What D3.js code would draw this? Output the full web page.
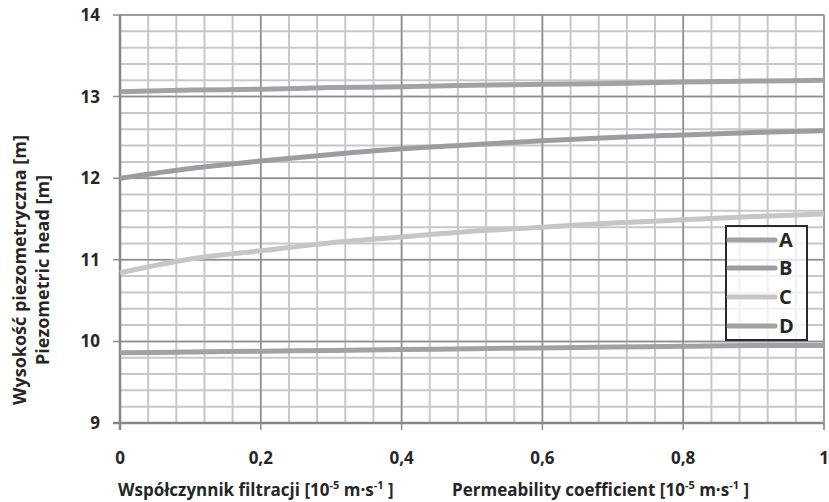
<!DOCTYPE html>
<html><head><meta charset="utf-8">
<script src="https://cdn.jsdelivr.net/npm/d3@7"></script>
<style>body{margin:0;background:#fff}svg{display:block}text{font-family:"Open Sans","DejaVu Sans",sans-serif;font-weight:700;fill:#262626}</style>
</head><body>
<script>
const xValues = [0, 0.1, 0.2, 0.3, 0.4, 0.5, 0.6, 0.7, 0.8, 0.9, 1.0];
const seriesA = [13.06, 13.08, 13.09, 13.11, 13.12, 13.14, 13.15, 13.16, 13.18, 13.19, 13.20];
const seriesB = [12.00, 12.12, 12.21, 12.29, 12.36, 12.41, 12.46, 12.50, 12.53, 12.56, 12.58];
const seriesC = [10.84, 11.01, 11.11, 11.21, 11.28, 11.35, 11.40, 11.45, 11.49, 11.53, 11.56];
const seriesD = [9.86, 9.87, 9.88, 9.89, 9.90, 9.91, 9.92, 9.93, 9.94, 9.95, 9.95];
const seriesNames = ["A", "B", "C", "D"];
const xTickLabels = ["0", "0,2", "0,4", "0,6", "0,8", "1"];
const yTickLabels = ["9", "10", "11", "12", "13", "14"];

const W = 829, H = 502;
const m = {l:120, r:5, t:15, b:79};
const svg = d3.select("body").append("svg").attr("width", W).attr("height", H);
const x = d3.scaleLinear().domain([0,1]).range([m.l, W-m.r]);
const y = d3.scaleLinear().domain([9,14]).range([H-m.b, m.t]);

const g = svg.append("g");
const xMinor = d3.range(0, 1.0001, 0.04);
const yMinor = d3.range(9, 14.0001, 0.2);
g.selectAll(".vmin").data(xMinor).join("line")
  .attr("x1", d=>x(d)).attr("x2", d=>x(d)).attr("y1", y(9)).attr("y2", y(14))
  .attr("stroke", "#c8c8c8").attr("stroke-width", 2);
g.selectAll(".hmin").data(yMinor).join("line")
  .attr("x1", x(0)).attr("x2", x(1)).attr("y1", d=>y(d)).attr("y2", d=>y(d))
  .attr("stroke", "#c8c8c8").attr("stroke-width", 2);
const xMajor = [0, 0.2, 0.4, 0.6, 0.8, 1];
const yMajor = [9, 10, 11, 12, 13, 14];
g.selectAll(".vmaj").data(xMajor).join("line")
  .attr("x1", d=>x(d)).attr("x2", d=>x(d)).attr("y1", y(9)).attr("y2", y(14))
  .attr("stroke", "#8e8e92").attr("stroke-width", 1.5);
g.selectAll(".hmaj").data(yMajor).join("line")
  .attr("x1", x(0)-7).attr("x2", x(1)).attr("y1", d=>y(d)).attr("y2", d=>y(d))
  .attr("stroke", "#8e8e92").attr("stroke-width", 1.5);
g.selectAll(".xt").data(xMajor).join("line")
  .attr("x1", d=>x(d)).attr("x2", d=>x(d)).attr("y1", y(9)).attr("y2", y(9)+7)
  .attr("stroke", "#8e8e92").attr("stroke-width", 1.5);
g.append("line").attr("x1", x(0)).attr("x2", x(0)).attr("y1", y(9)+7).attr("y2", y(14))
  .attr("stroke", "#86868a").attr("stroke-width", 2.5);
g.append("line").attr("x1", x(0)-7).attr("x2", x(1)).attr("y1", y(9)).attr("y2", y(9))
  .attr("stroke", "#86868a").attr("stroke-width", 2.5);
g.append("line").attr("x1", x(1)).attr("x2", x(1)).attr("y1", y(9)+7).attr("y2", y(14))
  .attr("stroke", "#9a9a9e").attr("stroke-width", 2);

svg.selectAll(".xl").data(xTickLabels).join("text")
  .attr("x", (d,i)=>x(xMajor[i])).attr("y", 464).attr("text-anchor", "middle")
  .attr("font-size", 17).text(d=>d);
svg.selectAll(".yl").data(yTickLabels).join("text")
  .attr("x", 100).attr("y", (d,i)=>y(yMajor[i])+6).attr("text-anchor", "end")
  .attr("font-size", 17).text(d=>d);

const colors = ["#a2a2a6", "#9d9da1", "#c6c6c6", "#a2a2a6"];
const allSeries = [seriesA, seriesB, seriesC, seriesD];
const line = d3.line().x((d,i)=>x(xValues[i])).y(d=>y(d)).curve(d3.curveMonotoneX);
allSeries.forEach((s,k)=>{
  svg.append("path").datum(s).attr("d", line).attr("fill", "none")
    .attr("stroke", colors[k]).attr("stroke-width", 5);
});

const lg = svg.append("g");
lg.append("rect").attr("x", 726).attr("y", 226).attr("width", 81).attr("height", 114)
  .attr("fill", "#fff").attr("fill-opacity", 0.75).attr("stroke", "#2a2a2a").attr("stroke-width", 2);
const ly = [240, 268, 297, 326];
seriesNames.forEach((n,i)=>{
  lg.append("line").attr("x1", 729).attr("x2", 775).attr("y1", ly[i]).attr("y2", ly[i])
    .attr("stroke", colors[i]).attr("stroke-width", 5).attr("stroke-linecap", "round");
  lg.append("text").attr("x", 779).attr("y", ly[i]+7).attr("font-size", 20).text(n);
});

function title(xp, label){
  const t = svg.append("text").attr("x", xp).attr("y", 496).attr("font-size", 17);
  t.append("tspan").text(label + " [10");
  t.append("tspan").text("-5").attr("font-size", 11).attr("dy", -7);
  t.append("tspan").text(" m·s").attr("dy", 7);
  t.append("tspan").text("-1").attr("font-size", 11).attr("dy", -7);
  t.append("tspan").text(" ]").attr("dy", 7);
  return t;
}
title(118, "Współczynnik filtracji");
title(452, "Permeability coefficient");

const yt = svg.append("g").attr("transform", "translate(0,270) rotate(-90)");
yt.append("text").attr("x", 0).attr("y", 26).attr("text-anchor", "middle").attr("font-size", 18)
  .text("Wysokość piezometryczna [m]");
yt.append("text").attr("x", 0).attr("y", 49).attr("text-anchor", "middle").attr("font-size", 18)
  .text("Piezometric head [m]");
</script>
</body></html>
